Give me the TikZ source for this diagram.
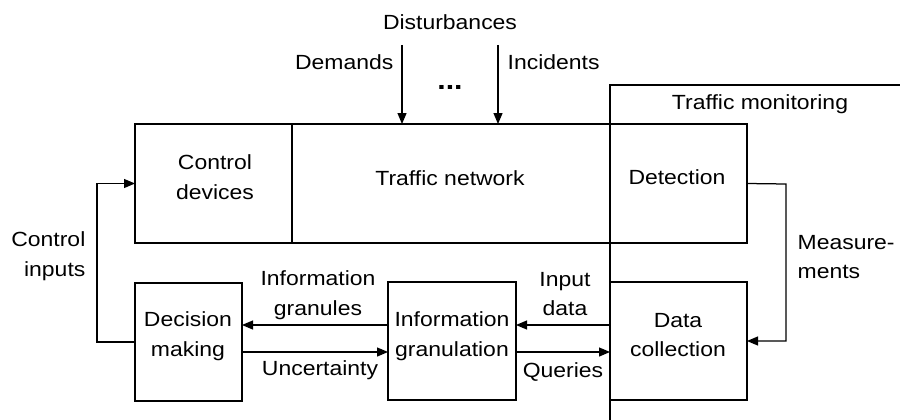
\documentclass[tikz,border=0pt]{standalone}
\usepackage{fontspec}
\setmainfont{Liberation Sans}[FakeStretch=1.12]
\usetikzlibrary{arrows.meta}
\begin{document}
\begin{tikzpicture}[x=1pt,y=-1pt,line width=1.25pt,
  box/.style={draw,rectangle,anchor=north west,inner sep=0pt,outer sep=0pt},
  lbl/.style={inner sep=0pt,font=\fontsize{20.5}{29.5}\selectfont},
  arr/.style={-{Triangle[length=11pt,width=9pt]}}]
\useasboundingbox (0,0) rectangle (900,420);
% boxes
\node[box,minimum width=157pt,minimum height=119pt] (cd) at (135,124) {};
\node[box,minimum width=318pt,minimum height=119pt] (tn) at (292,124) {};
\node[box,minimum width=137pt,minimum height=119pt] (det) at (610,124) {};
\node[box,minimum width=107pt,minimum height=118pt] (dm) at (135,283) {};
\node[box,minimum width=128pt,minimum height=118pt] (ig) at (388,282) {};
\node[box,minimum width=137pt,minimum height=118pt] (dc) at (610,282) {};
% monitoring frame
\coordinate (mb) at (610,420);
\coordinate (mt) at (610,85);
\coordinate (mr) at (900,85);
\draw (mb) -- (mt) -- (mr);
% box texts
\node[lbl,align=center] (tcd) at (215,177) {Control\\devices};
\node[lbl] (ttn) at (450,178) {Traffic network};
\node[lbl] (tdet) at (677,177) {Detection};
\node[lbl,align=center] (tdm) at (188,336) {Decision\\making};
\node[lbl,align=center] (tig) at (452,336) {Information\\granulation};
\node[lbl,align=center] (tdc) at (678,335) {Data\\collection};
\node[lbl,anchor=base] (ttm) at (760,110) {Traffic monitoring};
% disturbances
\node[lbl] (tdist) at (450,22) {Disturbances};
\node[lbl,anchor=east] (tdem) at (394,62) {Demands};
\node[lbl,anchor=west] (tinc) at (507,62) {Incidents};
\node[lbl,font=\fontsize{27}{30}\selectfont\bfseries,anchor=base] (tdots) at (450,90) {...};
\coordinate (d1) at (402,45);
\coordinate (d2) at (498,45);
\draw[arr] (d1) -- (d1 |- tn.north);
\draw[arr] (d2) -- (d2 |- tn.north);
% control inputs
\coordinate (ci) at (97,342);
\draw[arr] (dm.west) -- (ci) |- (cd.west);
\node[lbl,align=right,anchor=east] (tci) at (86,256) {Control\\inputs};
% measurements
\coordinate (me) at (786,184);
\draw[arr] (det.east) -- (me) |- (dc.east);
\node[lbl,align=left,anchor=west] (tme) at (797,257) {Measure-\\ments};
% lower arrows
\draw[arr] (ig.west |- 0,325) -- (dm.east |- 0,325);
\draw[arr] (dm.east |- 0,352) -- (ig.west |- 0,352);
\draw[arr] (dc.west |- 0,325) -- (ig.east |- 0,325);
\draw[arr] (ig.east |- 0,352) -- (dc.west |- 0,352);
\node[lbl,align=center] (tgr) at (318,295) {Information\\granules};
\node[lbl,anchor=base] (tun) at (320,375) {Uncertainty};
\node[lbl,align=center] (tin) at (565,294) {Input\\data};
\node[lbl,anchor=base] (tq) at (563,377) {Queries};
\end{tikzpicture}
\end{document}
